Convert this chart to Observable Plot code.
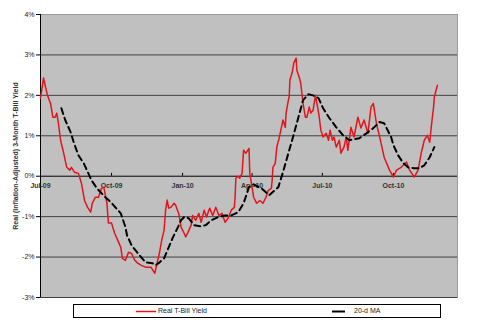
<!DOCTYPE html>
<html>
<head>
<meta charset="utf-8">
<script src="https://cdn.jsdelivr.net/npm/d3@7"></script>
<script src="https://cdn.jsdelivr.net/npm/@observablehq/plot@0.6"></script>
<style>
  html, body { margin: 0; padding: 0; background: #fff; }
  #wrap { position: relative; width: 480px; height: 328px; font-family: Arial, "Liberation Sans", sans-serif; }
  #legend { position: absolute; left: 73px; top: 304px; width: 366px; height: 12px; border: 1px solid #000; background: #fff; }
  #legend .item { position: absolute; top: 0; height: 12px; font-size: 7px; line-height: 12px; color: #222; white-space: nowrap; }
  #legend svg { position: absolute; top: 0; }
</style>
</head>
<body>
<div id="wrap">
  <div id="chart"></div>
  <div id="legend"></div>
</div>
<script>
// ---- data ----
const realDates = [
  "2009-07-01","2009-07-05","2009-07-07","2009-07-10","2009-07-14","2009-07-17","2009-07-20","2009-07-22","2009-07-24","2009-07-27",
  "2009-07-31","2009-08-04","2009-08-08","2009-08-10","2009-08-14","2009-08-19","2009-08-23","2009-08-27","2009-08-31","2009-09-04",
  "2009-09-06","2009-09-10","2009-09-14","2009-09-18","2009-09-21","2009-09-25","2009-09-27","2009-10-01","2009-10-05","2009-10-09",
  "2009-10-13","2009-10-15","2009-10-19","2009-10-23","2009-10-27","2009-10-31","2009-11-04","2009-11-08","2009-11-14","2009-11-21",
  "2009-11-25","2009-11-26","2009-11-29","2009-12-02","2009-12-05","2009-12-08","2009-12-10","2009-12-12","2009-12-14","2009-12-17",
  "2009-12-21","2009-12-23","2009-12-27","2009-12-30","2010-01-03","2010-01-05","2010-01-08","2010-01-12","2010-01-14","2010-01-18",
  "2010-01-22","2010-01-25","2010-01-29","2010-02-01","2010-02-05","2010-02-09","2010-02-13","2010-02-17","2010-02-21","2010-02-25",
  "2010-03-01","2010-03-05","2010-03-09","2010-03-10","2010-03-11","2010-03-14","2010-03-16","2010-03-19","2010-03-21","2010-03-24",
  "2010-03-28","2010-03-29","2010-04-01","2010-04-03","2010-04-07","2010-04-11","2010-04-15","2010-04-19","2010-04-22","2010-04-26",
  "2010-04-27","2010-04-28","2010-05-01","2010-05-03","2010-05-06","2010-05-09","2010-05-11","2010-05-14","2010-05-15","2010-05-18",
  "2010-05-19","2010-05-20","2010-05-23","2010-05-25","2010-05-28","2010-05-29","2010-06-01","2010-06-03","2010-06-06","2010-06-09",
  "2010-06-11","2010-06-14","2010-06-16","2010-06-19","2010-06-22","2010-06-24","2010-06-27","2010-06-29","2010-07-02","2010-07-06",
  "2010-07-09","2010-07-11","2010-07-14","2010-07-16","2010-07-19","2010-07-23","2010-07-25","2010-07-29","2010-08-01","2010-08-03",
  "2010-08-07","2010-08-11","2010-08-16","2010-08-20","2010-08-24","2010-08-29","2010-09-02","2010-09-05","2010-09-09","2010-09-15",
  "2010-09-19","2010-09-26","2010-10-01","2010-10-05","2010-10-11","2010-10-18","2010-10-22","2010-10-28","2010-11-02","2010-11-06",
  "2010-11-10","2010-11-14","2010-11-17","2010-11-19","2010-11-22","2010-11-23","2010-11-27"
];
const realValues = [
  1.93,2.43,2.25,2.00,1.80,1.46,1.46,1.56,1.34,0.89,
  0.57,0.22,0.15,0.22,0.10,0.07,-0.17,-0.60,-0.77,-0.89,
  -0.67,-0.52,-0.52,-0.30,-0.27,-0.67,-1.16,-1.16,-1.41,-1.58,
  -1.76,-2.03,-2.08,-1.88,-1.91,-2.08,-2.15,-2.20,-2.25,-2.25,
  -2.37,-2.40,-2.15,-1.90,-1.58,-1.34,-0.84,-0.59,-0.79,-0.77,
  -0.67,-0.72,-0.92,-1.26,-1.41,-1.50,-1.39,-1.21,-0.97,-1.09,
  -0.92,-1.14,-0.84,-1.01,-0.79,-0.97,-0.77,-0.97,-0.92,-1.14,
  -1.04,-0.84,-0.77,-0.52,-0.05,0.00,-0.05,0.07,0.64,0.57,
  0.69,0.07,-0.27,-0.52,-0.67,-0.60,-0.67,-0.52,-0.35,-0.30,
  -0.10,0.22,0.32,0.72,0.94,1.21,1.39,1.21,1.56,1.88,
  1.96,2.38,2.57,2.80,2.92,2.62,2.45,2.30,1.80,1.46,
  1.46,1.71,1.56,1.63,2.00,1.80,1.46,1.14,0.97,1.06,
  0.89,1.14,0.89,0.97,0.72,0.89,0.57,0.72,0.97,0.64,
  1.21,0.97,1.46,1.19,1.39,1.06,1.71,1.80,1.31,0.82,
  0.47,0.15,-0.02,0.15,0.22,0.35,0.15,-0.02,0.15,0.57,
  0.89,1.01,0.84,1.21,1.71,1.96,2.25
];
const maDates = [
  "2009-07-28","2009-08-02","2009-08-09","2009-08-13","2009-08-19","2009-08-26","2009-09-01","2009-09-05","2009-09-12","2009-09-18",
  "2009-09-23","2009-09-30","2009-10-06","2009-10-13","2009-10-19","2009-10-21","2009-10-27","2009-11-03","2009-11-14","2009-11-23",
  "2009-11-27","2009-12-01","2009-12-08","2009-12-14","2009-12-19","2009-12-26","2009-12-30","2010-01-03","2010-01-09","2010-01-16",
  "2010-01-25","2010-01-31","2010-02-07","2010-02-16","2010-02-24","2010-03-05","2010-03-14","2010-03-21","2010-03-28","2010-04-03",
  "2010-04-13","2010-04-23","2010-05-05","2010-05-11","2010-05-18","2010-05-24","2010-05-31","2010-06-06","2010-06-13","2010-06-19",
  "2010-06-26","2010-07-02","2010-07-10","2010-07-19","2010-07-28","2010-08-05","2010-08-18","2010-08-27","2010-09-05","2010-09-13",
  "2010-09-19","2010-09-28","2010-10-01","2010-10-07","2010-10-14","2010-10-20","2010-10-27","2010-11-04","2010-11-10","2010-11-17",
  "2010-11-23"
];
const maValues = [
  1.68,1.39,1.09,0.84,0.52,0.32,0.07,-0.10,-0.30,-0.42,
  -0.52,-0.64,-0.77,-0.92,-1.26,-1.46,-1.71,-1.88,-2.13,-2.15,
  -2.20,-2.15,-2.03,-1.76,-1.53,-1.26,-1.09,-1.01,-1.04,-1.21,
  -1.24,-1.21,-1.09,-1.01,-0.97,-0.97,-0.89,-0.67,-0.27,-0.20,
  -0.30,-0.47,-0.27,0.10,0.57,0.97,1.46,1.88,2.03,2.00,
  1.93,1.68,1.44,1.21,1.01,0.89,0.94,1.06,1.19,1.34,
  1.31,0.97,0.77,0.52,0.32,0.22,0.20,0.20,0.27,0.47,
  0.72
];
const xTickDates = ["2009-07-01","2009-10-01","2010-01-01","2010-04-01","2010-07-01","2010-10-01"];
const xTickLabels = ["Jul-09","Oct-09","Jan-10","Apr-10","Jul-10","Oct-10"];
const yTicks = [-3,-2,-1,0,1,2,3,4];
const xDomain = ["2009-07-01","2010-12-23"];
const seriesNames = ["Real T-Bill Yield","20-d MA"];
const yTitle = "Real (Inflation-Adjusted) 3-Month T-Bill Yield";

// ---- build ----
const parse = d3.utcParse("%Y-%m-%d");
const real = realDates.map((d, i) => ({date: parse(d), value: realValues[i]}));
const ma = maDates.map((d, i) => ({date: parse(d), value: maValues[i]}));
const xticks = xTickDates.map((d, i) => ({date: parse(d), label: xTickLabels[i]}));

const chart = Plot.plot({
  width: 480,
  height: 302,
  marginLeft: 40,
  marginRight: 23,
  marginTop: 14,
  marginBottom: 5,
  style: {fontFamily: "Arial, 'Liberation Sans', sans-serif", background: "transparent", color: "#222"},
  x: {type: "utc", domain: xDomain.map(parse), axis: null},
  y: {domain: [-3, 4], axis: null},
  marks: [
    Plot.frame({fill: "#c0c0c0", stroke: "#9a9a9a"}),
    Plot.ruleY(yTicks.filter(v => v !== 0 && v !== 4), {stroke: "#404040", strokeWidth: 1}),
    Plot.ruleY([0], {stroke: "#000"}),
    Plot.ruleX([parse(xDomain[0])], {stroke: "#000"}),
    Plot.axisY({ticks: yTicks, tickFormat: d => d + "%", tickSize: 4, tickPadding: 2, fontSize: 7, label: null, stroke: "#000"}),
    Plot.text([yTitle], {frameAnchor: "left", textAnchor: "middle", dx: -25, rotate: -90, fontSize: 7, fontWeight: "bold", fill: "#333"}),
    Plot.ruleX(xticks, {x: "date", y1: 0, y2: 0.07, stroke: "#000"}),
    Plot.text(xticks, {x: "date", y: () => 0, text: "label", dy: 10, fontSize: 7, fontWeight: "bold", fill: "#333"}),
    Plot.line(real, {x: "date", y: "value", stroke: "#e3141a", strokeWidth: 1.5}),
    Plot.line(ma, {x: "date", y: "value", stroke: "#000", strokeWidth: 2, strokeDasharray: "6,4"})
  ]
});
document.getElementById("chart").appendChild(chart);

// ---- legend ----
const legend = document.getElementById("legend");
const items = [
  {name: seriesNames[0], color: "#e3141a", dash: null, left: 62},
  {name: seriesNames[1], color: "#000", dash: "13,20", left: 258}
];
for (const it of items) {
  const svg = d3.create("svg").attr("width", 20).attr("height", 12).style("left", it.left + "px");
  svg.append("line").attr("x1", 0).attr("x2", 20).attr("y1", 6.5).attr("y2", 6.5)
    .attr("stroke", it.color).attr("stroke-width", it.dash ? 2 : 1.5)
    .attr("stroke-dasharray", it.dash);
  legend.appendChild(svg.node());
  const span = document.createElement("span");
  span.className = "item";
  span.style.left = (it.left + 22) + "px";
  span.textContent = it.name;
  legend.appendChild(span);
}
</script>
</body>
</html>
